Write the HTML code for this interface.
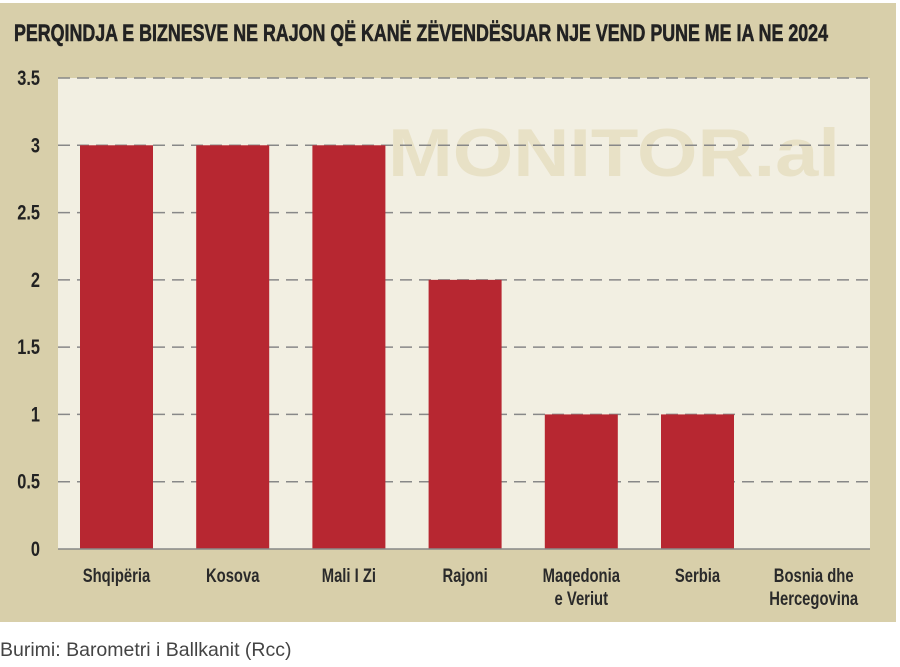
<!DOCTYPE html>
<html><head><meta charset="utf-8"><style>
body{margin:0;background:#fff;width:900px;height:662px;overflow:hidden;font-family:"Liberation Sans",sans-serif}
</style></head><body>
<svg width="900" height="662">
<rect x="0" y="3" width="896" height="619" fill="#d8cfaa"/>
<text x="14" y="41" font-family="Liberation Sans" font-weight="bold" font-size="24" fill="#222" stroke="#222" stroke-width="0.6" textLength="814" lengthAdjust="spacingAndGlyphs">PERQINDJA E BIZNESVE NE RAJON QË KANË ZËVENDËSUAR NJE VEND PUNE ME IA NE 2024</text>
<rect x="58" y="78" width="812" height="471" fill="#f2efe2"/>
<text x="388" y="176" font-family="Liberation Sans" font-weight="bold" font-size="68" fill="#e8e1c6" textLength="452" lengthAdjust="spacingAndGlyphs">MONITOR.al</text>
<g id="grid"></g><g id="bars"></g><g id="labels"></g>
<line x1="58" y1="549" x2="870" y2="549" stroke="#888" stroke-width="1.5"/>
<text x="0" y="656" font-family="Liberation Sans" font-size="19.5" fill="#444">Burimi: Barometri i Ballkanit (Rcc)</text>
</svg>
<script>
const categories=[["Shqipëria"],["Kosova"],["Mali I Zi"],["Rajoni"],["Maqedonia","e Veriut"],["Serbia"],["Bosnia dhe","Hercegovina"]];
const values=[3,3,3,2,1,1,0];
const ticks=[0,0.5,1,1.5,2,2.5,3,3.5];
const NS="http://www.w3.org/2000/svg";
const SX=0.78;
const y=v=>549-v*(471/3.5);
const x=i=>58+58.5+i*116.2;
function mk(t,a,p){const e=document.createElementNS(NS,t);for(const k in a)e.setAttribute(k,a[k]);p.appendChild(e);return e;}
const g=document.getElementById('grid'),b=document.getElementById('bars'),l=document.getElementById('labels');
ticks.forEach(t=>{
 if(t>0){const ln=mk('line',{x1:58,x2:870,y1:y(t),y2:y(t),stroke:'#888','stroke-width':1.5,'stroke-dasharray':'12,7'},g);
 
 }
 const tx=mk('text',{x:40/SX,y:y(t)+7,transform:'scale('+SX+',1)','text-anchor':'end','font-size':21,'font-weight':'bold',fill:'#222','font-family':'Liberation Sans'},g);
 tx.textContent=String(t);
 
 
});
values.forEach((v,i)=>{
 if(v>0){const r=mk('rect',{x:x(i)-36.5,y:y(v),width:73,height:549-y(v),fill:'#b72731'},b);
 
 }
 categories[i].forEach((s,j)=>{
  const tx=mk('text',{x:x(i)/SX,y:582+j*23,transform:'scale('+SX+',1)','text-anchor':'middle','font-size':19,'font-weight':'bold',fill:'#2a2a2a','font-family':'Liberation Sans'},l);
  tx.textContent=s;
  
  
 });
});
</script>
</body></html>
